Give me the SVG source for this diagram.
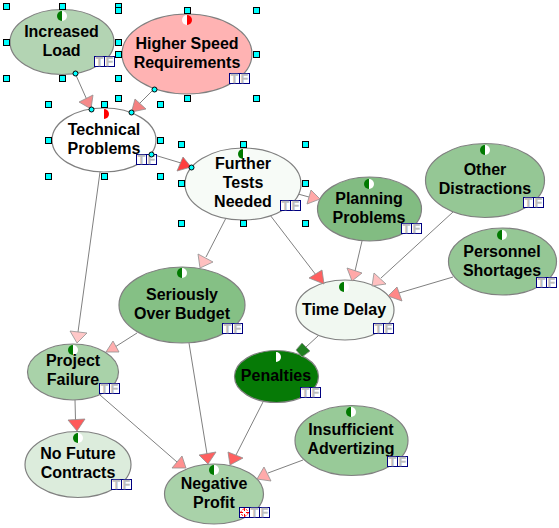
<svg xmlns="http://www.w3.org/2000/svg" xmlns:xlink="http://www.w3.org/1999/xlink" width="559" height="528" viewBox="0 0 559 528">
<style>
.n{stroke:#808080;stroke-width:1.2}
.t{font-family:"Liberation Sans",Arial,sans-serif;font-weight:bold;font-size:16px;fill:#000;text-anchor:middle}
.c line{stroke:#808080;stroke-width:1}
.c polygon{stroke:#909090;stroke-width:.8}
.h{fill:#00ffff;stroke:#000;stroke-width:1}
.d{fill:#00ffff;stroke:#000;stroke-width:1}
.b{fill:#fff;stroke:#000080;stroke-width:1}
.l{font-family:"Liberation Sans",Arial,sans-serif;font-weight:bold;font-size:12px;fill:#bdbdbd;stroke:#bdbdbd;stroke-width:.4;text-anchor:middle}
</style>
<defs>
<g id="sg"><path d="M0-5A5 5 0 0 0 0 5Z" fill="#007a00"/><path d="M0-5A5 5 0 0 1 0 5Z" fill="#fff"/></g>
<g id="sr"><path d="M0-5A5 5 0 0 0 0 5Z" fill="#fff"/><path d="M0-5A5 5 0 0 1 0 5Z" fill="#ff0000"/></g>
<g id="tf"><rect class="b" x=".5" y=".5" width="10" height="10"/><rect class="b" x="10.5" y=".5" width="10" height="10"/><text class="l" x="5.5" y="10">T</text><text class="l" x="15.5" y="10">F</text></g>
<rect id="hd" class="h" x="-3" y="-3" width="6" height="6"/>
</defs>
<rect width="559" height="528" fill="#fff"/>
<g id="connectors" class="c">
<line x1="75" y1="73" x2="87" y2="100"/>
<line x1="154" y1="89" x2="139" y2="104"/>
<line x1="151" y1="154" x2="181" y2="163"/>
<line x1="298" y1="194" x2="309" y2="197"/>
<line x1="362" y1="241" x2="355" y2="271"/>
<line x1="270" y1="215" x2="316" y2="275"/>
<line x1="453" y1="212" x2="381" y2="278"/>
<line x1="453" y1="277" x2="399" y2="293"/>
<line x1="226" y1="218" x2="206" y2="257"/>
<line x1="100" y1="172" x2="78" y2="332"/>
<line x1="137" y1="333" x2="115" y2="347"/>
<line x1="75" y1="400" x2="75.5" y2="420"/>
<line x1="100" y1="395" x2="177" y2="462"/>
<line x1="189" y1="343" x2="207" y2="454"/>
<line x1="263" y1="402" x2="236" y2="455"/>
<line x1="303" y1="460" x2="268" y2="473"/>
<line x1="318" y1="336" x2="306" y2="347"/>
</g>
<g id="node-increased-load"><ellipse class="n" cx="62" cy="42" rx="52" ry="32.5" fill="#b3d4b3"/><use href="#sg" x="62" y="16"/><text class="t" x="61.500" y="37">Increased</text><text class="t" x="61.500" y="56">Load</text><use href="#tf" x="94" y="56"/></g>
<g id="node-higher-speed"><ellipse class="n" cx="187" cy="54" rx="65" ry="40" fill="#ffb3b3"/><use href="#sr" x="187" y="20"/><text class="t" x="187" y="49">Higher Speed</text><text class="t" x="187" y="68">Requirements</text><use href="#tf" x="229" y="73"/></g>
<g id="node-technical-problems"><ellipse class="n" cx="104" cy="140" rx="52" ry="32" fill="#fff"/><use href="#sr" x="104" y="114"/><text class="t" x="104" y="135">Technical</text><text class="t" x="104" y="154">Problems</text><use href="#tf" x="136" y="154"/></g>
<g id="node-further-tests"><ellipse class="n" cx="243" cy="184" rx="58" ry="36" fill="#f7fbf7"/><use href="#sg" x="243" y="154"/><text class="t" x="243" y="169">Further</text><text class="t" x="243" y="188">Tests</text><text class="t" x="243" y="207">Needed</text><use href="#tf" x="280" y="200"/></g>
<g id="node-planning-problems"><ellipse class="n" cx="369.500" cy="209" rx="52" ry="32" fill="#82bc82"/><use href="#sg" x="369" y="184"/><text class="t" x="369" y="204">Planning</text><text class="t" x="369" y="223">Problems</text><use href="#tf" x="401" y="223"/></g>
<g id="node-other-distractions"><ellipse class="n" cx="485" cy="180.500" rx="59.500" ry="37" fill="#95c795"/><use href="#sg" x="485" y="150"/><text class="t" x="485" y="175">Other</text><text class="t" x="485" y="194">Distractions</text><use href="#tf" x="523" y="197"/></g>
<g id="node-personnel-shortages"><ellipse class="n" cx="502.500" cy="261.500" rx="54" ry="33.500" fill="#95c795"/><use href="#sg" x="502" y="235"/><text class="t" x="502" y="257">Personnel</text><text class="t" x="502" y="276">Shortages</text><use href="#tf" x="536" y="277"/></g>
<g id="node-time-delay"><ellipse class="n" cx="345" cy="310" rx="49" ry="30" fill="#f1f8f1"/><use href="#sg" x="344" y="287"/><text class="t" x="344" y="315">Time Delay</text><use href="#tf" x="373" y="323"/></g>
<g id="node-seriously-over-budget"><ellipse class="n" cx="182" cy="305" rx="63" ry="38" fill="#85c085"/><use href="#sg" x="182" y="273"/><text class="t" x="182" y="300">Seriously</text><text class="t" x="182" y="319">Over Budget</text><use href="#tf" x="222" y="323"/></g>
<g id="node-project-failure"><ellipse class="n" cx="73" cy="372" rx="45.500" ry="28" fill="#a9d2a9"/><use href="#sg" x="73" y="350"/><text class="t" x="73" y="366">Project</text><text class="t" x="73" y="385">Failure</text><use href="#tf" x="99" y="383"/></g>
<g id="node-no-future-contracts"><ellipse class="n" cx="78" cy="464.500" rx="53" ry="33" fill="#dcecdc"/><use href="#sg" x="78" y="438"/><text class="t" x="78" y="459">No Future</text><text class="t" x="78" y="478">Contracts</text><use href="#tf" x="111" y="479"/></g>
<g id="node-negative-profit"><ellipse class="n" cx="214" cy="494" rx="49.500" ry="30" fill="#a9d2a9"/><use href="#sg" x="214" y="470"/><text class="t" x="214" y="489">Negative</text><text class="t" x="214" y="508">Profit</text><rect class="b" x="239.500" y="507.500" width="10" height="10"/><circle cx="244.500" cy="512.500" r="3.500" fill="none" stroke="#ff0000" stroke-dasharray="2 1.500"/><path d="M244.500 508V511M244.500 514V517M240 512.500H243M246 512.500H249" stroke="#ff0000" fill="none"/><use href="#tf" x="249" y="507"/></g>
<g id="node-penalties"><ellipse class="n" cx="276.500" cy="376.500" rx="42" ry="26" fill="#067a06"/><use href="#sg" x="276" y="357"/><text class="t" x="276" y="381">Penalties</text><use href="#tf" x="300" y="387"/></g>
<g id="node-insufficient-advertizing"><ellipse class="n" cx="351.500" cy="440.500" rx="56.500" ry="35" fill="#98ca98"/><use href="#sg" x="351" y="412"/><text class="t" x="351" y="435">Insufficient</text><text class="t" x="351" y="454">Advertizing</text><use href="#tf" x="387" y="456"/></g>
<g id="arrowheads" class="c">
<polygon points="79,102 93,95 91,109" fill="#f58a8a"/>
<polygon points="135,99 146,109 131.500,112" fill="#f48080"/>
<polygon points="183,157 177,171 191,167" fill="#ff3f3f"/>
<polygon points="311,190 307,204 320,199" fill="#ffa8a8"/>
<polygon points="347,268 362,273 352,281" fill="#ffa8a8"/>
<polygon points="309,278 322,270 324,284" fill="#ff6060"/>
<polygon points="374,273 386,284 372,286" fill="#ffc0c0"/>
<polygon points="397,287 402,301 388,296" fill="#ff8888"/>
<polygon points="198,254 213,262 200,268" fill="#ffc0c0"/>
<polygon points="70,331 87,333 77,343" fill="#ffc8c8"/>
<polygon points="113,341 119,352 106,352" fill="#ffaeae"/>
<polygon points="68,420 85,419 77,431" fill="#ff5a5a"/>
<polygon points="182,456 186,468 172,468" fill="#ff9090"/>
<polygon points="199,455 216,452 208,464" fill="#ff6060"/>
<polygon points="228,452 243,458 230,465" fill="#ff6060"/>
<polygon points="264,467 271,481 257,479" fill="#ffaaaa"/>
<polygon points="302,343 310,351 302,357 296,350" fill="#208020"/>
</g>
<g id="selection-handles">
<use href="#hd" x="6.500" y="6.500"/><use href="#hd" x="62.500" y="6.500"/><use href="#hd" x="118.500" y="6.500"/><use href="#hd" x="6.500" y="42.500"/><use href="#hd" x="118.500" y="42.500"/><use href="#hd" x="6.500" y="78.500"/><use href="#hd" x="62.500" y="78.500"/><use href="#hd" x="118.500" y="78.500"/>
<use href="#hd" x="118.500" y="10.500"/><use href="#hd" x="187.500" y="10.500"/><use href="#hd" x="256.500" y="10.500"/><use href="#hd" x="118.500" y="54.500"/><use href="#hd" x="256.500" y="54.500"/><use href="#hd" x="118.500" y="98.500"/><use href="#hd" x="187.500" y="98.500"/><use href="#hd" x="256.500" y="98.500"/>
<use href="#hd" x="48.500" y="104.500"/><use href="#hd" x="104.500" y="104.500"/><use href="#hd" x="160.500" y="104.500"/><use href="#hd" x="48.500" y="140.500"/><use href="#hd" x="160.500" y="140.500"/><use href="#hd" x="48.500" y="176.500"/><use href="#hd" x="104.500" y="176.500"/><use href="#hd" x="160.500" y="176.500"/>
<use href="#hd" x="181.500" y="144.500"/><use href="#hd" x="243.500" y="144.500"/><use href="#hd" x="305.500" y="144.500"/><use href="#hd" x="181.500" y="183.500"/><use href="#hd" x="305.500" y="183.500"/><use href="#hd" x="181.500" y="223.500"/><use href="#hd" x="243.500" y="223.500"/><use href="#hd" x="305.500" y="223.500"/>
<circle class="d" cx="75.500" cy="73.500" r="2.500"/><circle class="d" cx="154.500" cy="89.500" r="2.500"/><circle class="d" cx="91.500" cy="109.500" r="2.500"/><circle class="d" cx="131.500" cy="112.500" r="2.500"/><circle class="d" cx="151.500" cy="154.500" r="2.500"/><circle class="d" cx="191.500" cy="167.500" r="2.500"/>
</g>
</svg>
